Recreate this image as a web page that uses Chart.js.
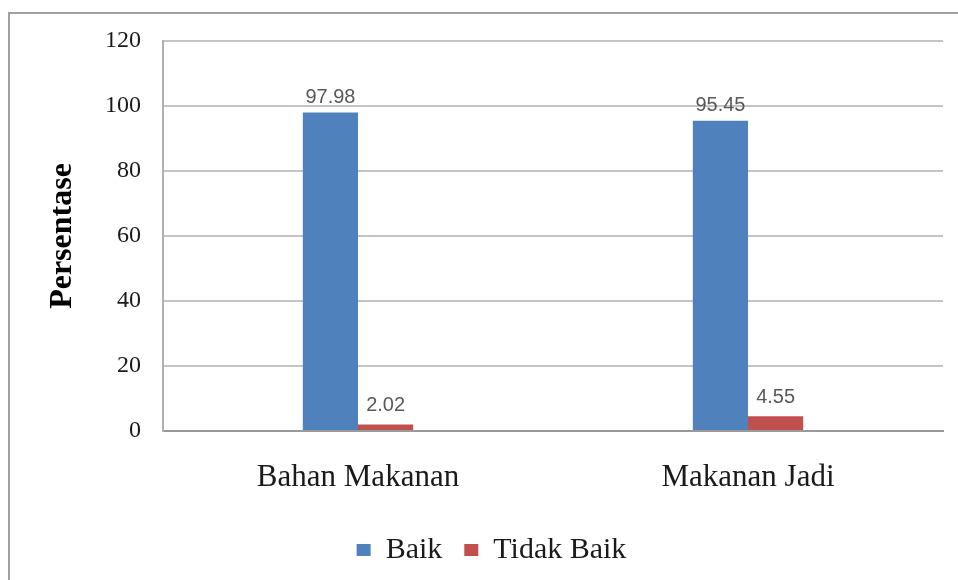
<!DOCTYPE html>
<html>
<head>
<meta charset="utf-8">
<script src="https://cdn.jsdelivr.net/npm/chart.js@4.4.1/dist/chart.umd.min.js"></script>
<style>
  html, body { margin: 0; padding: 0; background: #fff; }
  #box {
    position: absolute; left: 8px; top: 12px;
    width: 950px; height: 568px;
    border-top: 2px solid #a0a0a0; border-left: 2px solid #a0a0a0;
  }
  #wrap { position: absolute; left: 0; top: 0; width: 948px; height: 566px; }
</style>
</head>
<body>
<div id="box"><div id="wrap"><canvas id="grafik"></canvas></div></div>
<script>
var kategori = ["Bahan Makanan", "Makanan Jadi"];
var baik = [97.98, 95.45];
var tidakBaik = [2.02, 4.55];
var yTicks = [0, 20, 40, 60, 80, 100, 120];

// label angka di atas batang
var labelAngka = {
    id: 'labelAngka',
    afterDatasetsDraw: function (chart) {
        var c = chart.ctx;
        c.save();
        c.font = '20px "Liberation Sans", Arial, sans-serif';
        c.fillStyle = '#595959';
        c.textAlign = 'center';
        c.textBaseline = 'middle';
        chart.data.datasets.forEach(function (ds, i) {
            chart.getDatasetMeta(i).data.forEach(function (bar, j) {
                c.fillText(ds.data[j].toFixed(2), bar.x, bar.y - (i === 0 ? 15 : 19));
            });
        });
        c.restore();
    }
};

var ctx = document.getElementById("grafik").getContext('2d');
var grafik = new Chart(ctx, {
    type: 'bar',
    data: {
        labels: kategori,
        datasets: [{
            label: 'Baik',
            data: baik,
            backgroundColor: '#4F81BD',
            borderWidth: 0
        }, {
            label: 'Tidak Baik',
            data: tidakBaik,
            backgroundColor: '#C0504D',
            borderWidth: 0
        }]
    },
    options: {
        responsive: true,
        maintainAspectRatio: false,
        animation: false,
        datasets: {
            bar: { categoryPercentage: 0.283, barPercentage: 1 }
        },
        layout: { padding: { left: 30, right: 15, top: 27, bottom: 5 } },
        plugins: {
            tooltip: { enabled: false },
            legend: {
                position: 'bottom',
                labels: {
                    boxWidth: 14,
                    boxHeight: 12,
                    padding: 22,
                    color: '#1a1a1a',
                    font: { family: '"Liberation Serif", "Times New Roman", serif', size: 30 }
                }
            }
        },
        scales: {
            x: {
                grid: { display: false, drawTicks: false },
                border: { display: true, color: '#9a9a9a', width: 2 },
                ticks: {
                    padding: 28,
                    color: '#1a1a1a',
                    font: { family: '"Liberation Serif", "Times New Roman", serif', size: 31 }
                },
                afterFit: function (s) { s.height = 82; s.paddingLeft = 0; s.paddingRight = 0; }
            },
            y: {
                min: 0,
                max: 120,
                afterBuildTicks: function (s) {
                    s.ticks = yTicks.map(function (v) { return { value: v }; });
                },
                grid: { color: '#c4c4c4', lineWidth: 2, drawTicks: false },
                border: { display: true, color: '#b0b0b0', width: 2 },
                ticks: {
                    padding: 22,
                    color: '#1a1a1a',
                    font: { family: '"Liberation Serif", "Times New Roman", serif', size: 24 }
                },
                title: {
                    display: true,
                    text: 'Persentase',
                    color: '#000',
                    padding: { top: 4, bottom: 0 },
                    font: { family: '"Liberation Serif", "Times New Roman", serif', size: 32, weight: 'bold' }
                },
                afterFit: function (s) { s.width = 123; s.paddingTop = 0; s.paddingBottom = 0; }
            }
        }
    },
    plugins: [labelAngka]
});
</script>
</body>
</html>
